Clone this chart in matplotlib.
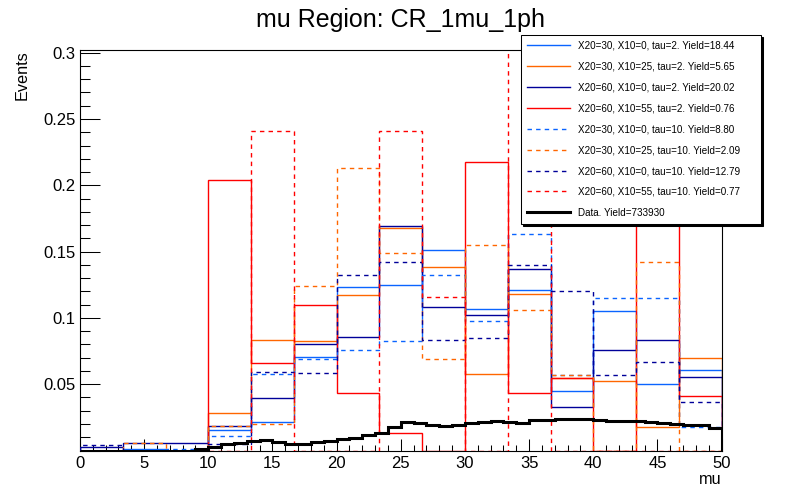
import numpy as np
import matplotlib
matplotlib.use('Agg')
import matplotlib.pyplot as plt
from matplotlib.ticker import FixedLocator, MultipleLocator

plt.rcParams['font.family'] = ['Liberation Sans', 'DejaVu Sans']

# signal histograms: 15 bins of width 10/3 from 0 to 50
sig_edges = np.linspace(0, 50, 16)
# data histogram: 1 unit bins
data_edges = np.arange(0, 51, 1)

blue_tau2 = [0.0, 0.0009, 0.0, 0.0155, 0.0213, 0.0703, 0.1231, 0.1246, 0.1510, 0.1065, 0.1208, 0.0446, 0.1050, 0.0499, 0.0605]
orange_tau2 = [0.0, 0.0, 0.0, 0.0280, 0.0831, 0.0823, 0.1170, 0.1676, 0.1384, 0.0575, 0.1180, 0.0545, 0.0522, 0.0175, 0.0695]
navy_tau2 = [0.0024, 0.0054, 0.0054, 0.0185, 0.0394, 0.0801, 0.0854, 0.1691, 0.1080, 0.1020, 0.1367, 0.0328, 0.0756, 0.0831, 0.0552]
red_tau2 = [0.0, 0.0, 0.0, 0.2038, 0.0657, 0.1095, 0.0431, 0.0130, 0.0, 0.2173, 0.0431, 0.0544, 0.0, 0.2090, 0.0409]
blue_tau10 = [0.0, 0.0, 0.0009, 0.0107, 0.0575, 0.0688, 0.0756, 0.0823, 0.1321, 0.0974, 0.1630, 0.0572, 0.1148, 0.1148, 0.0175]
orange_tau10 = [0.0, 0.0054, 0.0, 0.0185, 0.0198, 0.1241, 0.2128, 0.1487, 0.0690, 0.1547, 0.1057, 0.0572, 0.0, 0.1419, 0.0]
navy_tau10 = [0.0039, 0.0, 0.0, 0.0047, 0.0590, 0.0582, 0.1321, 0.1419, 0.0831, 0.0846, 0.1397, 0.1203, 0.0567, 0.0665, 0.0363]
red_tau10 = [0.0, 0.0, 0.0, 0.0, 0.2407, 0.0, 0.0, 0.2407, 0.1155, 0.0, 0.4030, 0.0, 0.0, 0.0, 0.0]

data = [0, 0, 0, 0, 0, 0, 0, 0, 0,
        0.0010, 0.0030, 0.0047, 0.0060, 0.0072, 0.0078, 0.0065, 0.0050, 0.0052, 0.0062, 0.0075,
        0.0085, 0.0097, 0.0115, 0.0135, 0.0175, 0.0215, 0.0205, 0.0190, 0.0188, 0.0195,
        0.0205, 0.0215, 0.0220, 0.0215, 0.0210, 0.0230, 0.0233, 0.0238, 0.0240, 0.0238,
        0.0233, 0.0220, 0.0225, 0.0220, 0.0215, 0.0210, 0.0200, 0.0196, 0.0190, 0.0170]

labels = ['X20=30, X10=0, tau=2. Yield=18.44',
          'X20=30, X10=25, tau=2. Yield=5.65',
          'X20=60, X10=0, tau=2. Yield=20.02',
          'X20=60, X10=55, tau=2. Yield=0.76',
          'X20=30, X10=0, tau=10. Yield=8.80',
          'X20=30, X10=25, tau=10. Yield=2.09',
          'X20=60, X10=0, tau=10. Yield=12.79',
          'X20=60, X10=55, tau=10. Yield=0.77']
data_label = 'Data. Yield=733930'

series = [blue_tau2, orange_tau2, navy_tau2, red_tau2,
          blue_tau10, orange_tau10, navy_tau10, red_tau10]
colors = ['#0a64ff', '#ff6600', '#000099', '#ff0000'] * 2
styles = ['-'] * 4 + [(0, (3.2, 3.0))] * 4

fig = plt.figure(figsize=(8, 5), dpi=100)
ax = fig.add_axes([0.1, 0.099, 0.802, 0.8004])

handles = []
for i, vals in enumerate(series):
    h = ax.stairs(vals, sig_edges, color=colors[i], linestyle=styles[i],
                  linewidth=1.0, label=labels[i], zorder=2 + i * 0.1)
    handles.append(h)
hd = ax.stairs(data, data_edges, color='black', linewidth=2.2, label=data_label, zorder=4)
handles.append(hd)

ax.set_xlim(0, 50)
ax.set_ylim(0, 0.3018)

ax.xaxis.set_major_locator(MultipleLocator(5))
ax.xaxis.set_minor_locator(MultipleLocator(1))
yt = [0, 0.05, 0.1, 0.15, 0.2, 0.25, 0.3]
ax.yaxis.set_major_locator(FixedLocator(yt))
ax.set_yticklabels(['', '0.05', '0.1', '0.15', '0.2', '0.25', '0.3'])
ax.yaxis.set_minor_locator(MultipleLocator(0.01))

ax.tick_params(axis='both', which='both', direction='in', top=False, right=False,
               labelsize=12, width=0.75, colors='black')
ax.tick_params(axis='x', which='major', length=8.6, pad=4)
ax.tick_params(axis='x', which='minor', length=4.3)
ax.tick_params(axis='y', which='major', length=14.4, pad=3)
ax.tick_params(axis='y', which='minor', length=7.2)
for s in ax.spines.values():
    s.set_linewidth(0.8)

fig.text(0.5, 1 - 20 / 500, 'mu Region: CR_1mu_1ph', ha='center', va='center', fontsize=18)
fig.text(22 / 800, 1 - 50 / 500, 'Events', rotation=90, ha='center', va='top', fontsize=11.7)
fig.text(722 / 800, 1 - 480 / 500, 'mu', ha='right', va='center', fontsize=11.7)

leg = ax.legend(handles=handles, loc='upper left',
                bbox_to_anchor=(521 / 800, 1 - 225 / 500, 240 / 800, 190 / 500),
                bbox_transform=fig.transFigure, mode='expand', borderaxespad=0,
                fontsize=7.1, handlelength=4.36, handletextpad=0.85, labelspacing=1.1,
                borderpad=0.6, fancybox=False, framealpha=1, edgecolor='black',
                shadow={'color': 'black', 'alpha': 1, 'ox': 1.5, 'oy': -1.5})
leg.get_frame().set_linewidth(0.75)
leg.set_zorder(10)

fig.savefig('out.png', dpi=100)
